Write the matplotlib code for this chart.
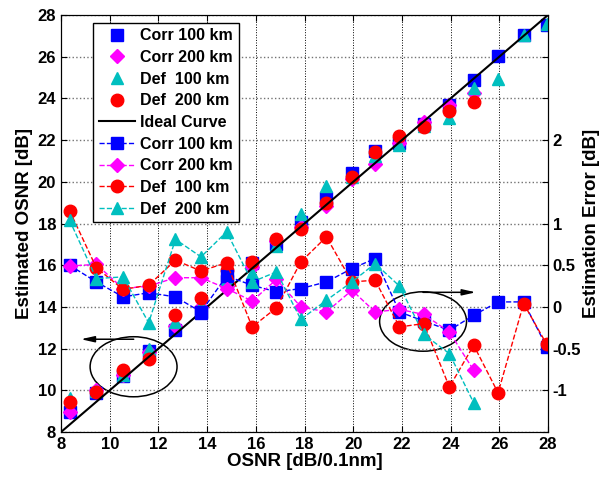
import matplotlib
matplotlib.use("Agg")
import matplotlib.pyplot as plt
from matplotlib.patches import Ellipse

plt.rcParams['font.family'] = ['Liberation Sans', 'DejaVu Sans']
plt.rcParams['font.weight'] = 'bold'

# OSNR values [dB/0.1nm]
osnr = [8.35, 9.45, 10.55, 11.6, 12.7, 13.75, 14.8, 15.85, 16.85, 17.85,
        18.9, 19.95, 20.9, 21.9, 22.9, 23.95, 24.95, 25.95, 27.0, 27.95]

# estimated OSNR (left axis)
corr100_est = [8.95, 9.85, 10.7, 11.9, 12.9, 13.72, 15.25, 16.1, 17.03, 18.07,
               19.2, 20.41, 21.5, 21.84, 22.75, 23.7, 24.9, 26.03, 27.05, 27.5]
corr200_est = [8.95, 10.0, 10.75, 11.85, 13.1, 14.0, 15.0, 15.92, 17.18, 17.85,
               18.84, 20.15, 20.87, 21.87, 22.85, 23.68, 24.25]
def100_est = [9.65, 9.95, 10.75, 12.0, 13.3, 14.1, 15.35, 15.61, 16.9, 18.45,
              19.8, 20.25, 21.25, 21.75, 22.7, 23.05, 24.5, 24.95, 27.03, 27.55]
def200_est = [9.45, 9.9, 10.97, 11.5, 13.6, 14.45, 15.75, 16.15, 17.27, 17.75,
              18.98, 20.25, 21.42, 22.2, 22.65, 23.4, 23.82]

# estimation error (right axis)
corr100_err = [0.5, 0.30, 0.12, 0.17, 0.12, -0.06, 0.37, 0.26, 0.18, 0.22,
               0.30, 0.46, 0.58, -0.06, -0.17, -0.28, -0.10, 0.06, 0.06, -0.48]
corr200_err = [0.49, 0.51, 0.22, 0.25, 0.35, 0.35, 0.22, 0.07, 0.33, 0.0,
               -0.06, 0.2, -0.06, -0.03, -0.09, -0.30, -0.76]
def100_err = [1.155, 0.47, 0.21, 0.26, 0.56, 0.43, 0.53, -0.24, -0.01, 0.54,
              0.84, 0.30, 0.32, -0.24, -0.2, -0.96, -0.46, -1.03, 0.04, -0.45]
def200_err = [1.04, 0.34, 0.36, -0.19, 0.81, 0.6, 0.90, 0.30, 0.42, -0.15,
              0.08, 0.30, 0.52, 0.25, -0.33, -0.56, -1.15]

ideal = [8, 28]
err_ticks = [-1.5, -1, -0.5, 0, 0.5, 1, 1.5, 2, 2.5, 3, 3.5]
err_ticklabels = ['', '-1', '-0.5', '0', '0.5', '1', '', '2', '', '', '']

BLUE = '#0000ff'
MAG = '#ff00ff'
RED = '#ff0000'
CYAN = '#00bfbf'

fig = plt.figure(figsize=(6, 4.78), dpi=100)
ax = fig.add_axes([0.1017, 0.0962, 0.8116, 0.8724])

n2 = len(corr200_est)
ax.plot(osnr, corr100_est, 's', color=BLUE, ms=8, label='Corr 100 km')
ax.plot(osnr[:n2], corr200_est, 'D', color=MAG, ms=7.5, label='Corr 200 km')
ax.plot(osnr, def100_est, '^', color=CYAN, ms=9, label='Def  100 km')
ax.plot(osnr[:n2], def200_est, 'o', color=RED, ms=9, label='Def  200 km')
ax.plot(ideal, ideal, '-', color='k', lw=1.5, label='Ideal Curve')

ax.set_xlim(8, 28)
ax.set_ylim(8, 28)
ax.set_xticks(range(8, 29, 2))
ax.set_yticks(range(8, 29, 2))
ax.tick_params(direction='in', labelsize=12, top=True, right=False, length=4)
ax.grid(True, axis='x', color='k', linestyle=':', lw=0.7)
ax.grid(True, axis='y', color='0.45', linestyle=':', lw=1.0)
ax.set_xlabel('OSNR [dB/0.1nm]', fontsize=13.5, fontweight='bold', labelpad=1)
ax.set_ylabel('Estimated OSNR [dB]', fontsize=13.5, fontweight='bold', labelpad=3)

# ellipses and arrows
ax.add_patch(Ellipse((10.98, 11.13), 3.57, 2.88, fill=False, color='k', lw=1.1))
ax.add_patch(Ellipse((22.87, 13.3), 3.57, 2.85, fill=False, color='k', lw=1.1))
ax.annotate('', xy=(8.7, 12.45), xytext=(11.1, 12.45),
            arrowprops=dict(arrowstyle='-|>,head_length=0.8,head_width=0.18', color='k', lw=1.1))
ax.annotate('', xy=(25.15, 14.7), xytext=(22.75, 14.7),
            arrowprops=dict(arrowstyle='-|>,head_length=0.8,head_width=0.18', color='k', lw=1.1))

ax2 = ax.twinx()
ax2.plot(osnr, corr100_err, '--s', color=BLUE, ms=8, lw=1, label='Corr 100 km')
ax2.plot(osnr[:n2], corr200_err, '--D', color=MAG, ms=7.5, lw=1, label='Corr 200 km')
ax2.plot(osnr, def100_err, '--o', color=RED, ms=9, lw=1, label='Def  100 km')
ax2.plot(osnr[:n2], def200_err, '--^', color=CYAN, ms=9, lw=1, label='Def  200 km')
ax2.set_ylim(-1.5, 3.5)
ax2.set_yticks(err_ticks)
ax2.set_yticklabels(err_ticklabels)
ax2.tick_params(direction='in', labelsize=12, length=4)
ax2.set_ylabel('Estimation Error [dB]', fontsize=13.5, fontweight='bold', labelpad=1)

h1, l1 = ax.get_legend_handles_labels()
h2, l2 = ax2.get_legend_handles_labels()
leg = ax2.legend(h1 + h2, l1 + l2, loc='upper left', bbox_to_anchor=(0.066, 0.982),
                 borderaxespad=0, fancybox=False, edgecolor='k', framealpha=1,
                 fontsize=11.5, numpoints=1, handlelength=2.3, labelspacing=0.42,
                 handletextpad=0.3, borderpad=0.35)
leg.get_frame().set_linewidth(1.0)

fig.savefig('out.png', dpi=100)
